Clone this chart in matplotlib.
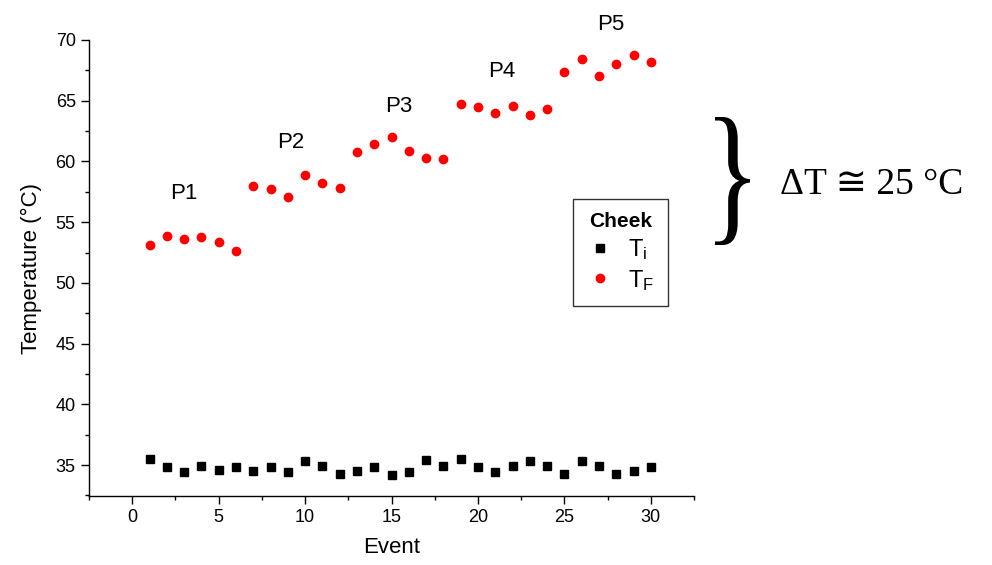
import matplotlib
matplotlib.use("Agg")
import matplotlib.pyplot as plt
from matplotlib.ticker import MultipleLocator
from matplotlib.textpath import TextPath
from matplotlib.font_manager import FontProperties
from matplotlib.patches import PathPatch
from matplotlib.transforms import Affine2D, IdentityTransform

plt.rcParams['font.family'] = ['Liberation Sans', 'DejaVu Sans']
plt.rcParams['mathtext.fontset'] = 'custom'
plt.rcParams['mathtext.rm'] = 'Liberation Sans'
plt.rcParams['mathtext.it'] = 'Liberation Sans'

# temperatura inicial e final por evento
eventos = list(range(1, 31))
t_inicial = [35.5, 34.8, 34.4, 34.9, 34.6, 34.8, 34.5, 34.8, 34.4, 35.3,
             34.9, 34.3, 34.5, 34.8, 34.2, 34.4, 35.4, 34.9, 35.5, 34.8,
             34.4, 34.9, 35.3, 34.9, 34.3, 35.3, 34.9, 34.3, 34.5, 34.8]
t_final = [53.1, 53.9, 53.6, 53.8, 53.4, 52.6, 58.0, 57.7, 57.1, 58.9,
           58.2, 57.8, 60.8, 61.4, 62.0, 60.9, 60.3, 60.2, 64.7, 64.5,
           64.0, 64.6, 63.8, 64.3, 67.4, 68.4, 67.0, 68.0, 68.8, 68.2]

# rótulos das potências
potencias = ['P1', 'P2', 'P3', 'P4', 'P5']
pos_potencias = [(3.0, 57.4), (9.2, 61.6), (15.4, 64.5), (21.4, 67.4), (27.7, 71.3)]

fig = plt.figure(figsize=(9.92, 5.65), dpi=100)
ax = fig.add_axes([89 / 992, 1 - 496 / 565, (694 - 89) / 992, (496 - 40) / 565])

ax.plot(eventos, t_inicial, 's', color='black', markersize=5.2, label=r'$\mathregular{T_i}$')
ax.plot(eventos, t_final, 'o', color='red', markersize=6, label=r'$\mathregular{T_F}$')

for nome, (px, py) in zip(potencias, pos_potencias):
    ax.text(px, py, nome, fontsize=16, ha='center', va='center', clip_on=False)

ax.set_xlim(-2.5, 32.5)
ax.set_ylim(32.45, 70)
ax.xaxis.set_major_locator(MultipleLocator(5))
ax.xaxis.set_minor_locator(MultipleLocator(2.5))
ax.yaxis.set_major_locator(MultipleLocator(5))
ax.yaxis.set_minor_locator(MultipleLocator(2.5))
ax.tick_params(which='major', direction='out', length=6, width=1, labelsize=13)
ax.tick_params(which='minor', direction='out', length=3, width=1)
for lado in ['top', 'right']:
    ax.spines[lado].set_visible(False)
for lado in ['left', 'bottom']:
    ax.spines[lado].set_linewidth(1)

ax.set_xlabel('Event', fontsize=16, labelpad=8)
ax.set_ylabel('Temperature (°C)', fontsize=16, labelpad=10)

leg = ax.legend(title='Cheek', loc='upper left', bbox_to_anchor=(573 / 992, 1 - 199 / 565),
                bbox_transform=fig.transFigure, borderaxespad=0, fancybox=False,
                edgecolor='black', fontsize=17, handlelength=1.2, handletextpad=0.6,
                labelspacing=0.25, borderpad=0.55, title_fontproperties={'weight': 'bold', 'size': 15})
leg.get_frame().set_linewidth(1)

# chave e diferença de temperatura
chave = TextPath((0, 0), '}', size=1, prop=FontProperties(family='Liberation Serif'))
ext = chave.get_extents()
x0, x1, y0, y1 = 715, 750, 565 - 245, 565 - 117
tr = (Affine2D().translate(-ext.x0, -ext.y0)
      .scale((x1 - x0) / ext.width, (y1 - y0) / ext.height)
      .translate(x0, y0))
fig.add_artist(PathPatch(tr.transform_path(chave), facecolor='black', edgecolor='none',
                         transform=IdentityTransform()))

fig.text(780 / 992, 1 - 185 / 565, 'ΔT ≅ 25 °C', fontsize=27, ha='left', va='center',
         family=['Liberation Serif', 'DejaVu Sans'])

fig.savefig('out.png', dpi=100)
